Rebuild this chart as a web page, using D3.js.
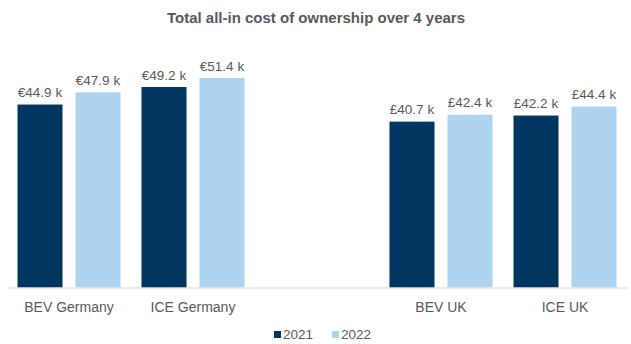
<!DOCTYPE html>
<html>
<head>
<meta charset="utf-8">
<script src="https://cdn.jsdelivr.net/npm/d3@7"></script>
<style>
  html, body { margin: 0; padding: 0; background: #ffffff; }
  svg { display: block; font-family: "Liberation Sans", Arial, sans-serif; }
</style>
</head>
<body>
<svg id="chart" width="631" height="344"></svg>
<script>
// Categories (an empty slot separates the Germany and UK groups)
const categories = ["BEV Germany", "ICE Germany", "", "BEV UK", "ICE UK"];
const years = ["2021", "2022"];
// Total cost of ownership, thousands
const values2021 = [44.9, 49.2, null, 40.7, 42.2];
const values2022 = [47.9, 51.4, null, 42.4, 44.4];
const currency = ["€", "€", "", "£", "£"];

const colors = { "2021": "#003660", "2022": "#ADD3EF" };
const textColor = "#595959";

const svg = d3.select("#chart");
const baseY = 287.5;
const topY = 43;

const x0 = d3.scaleBand().domain(categories).range([7, 627]).padding(0);
const x1 = d3.scaleBand().domain(years)
  .range([10.5, x0.bandwidth() - 10.5]).paddingInner(0.224);
const y = d3.scaleLinear().domain([0, 60]).range([baseY, topY]);

// Title
svg.append("text")
  .attr("x", 316).attr("y", 23)
  .attr("text-anchor", "middle")
  .attr("font-size", 15).attr("font-weight", "bold")
  .attr("fill", textColor)
  .text("Total all-in cost of ownership over 4 years");

const rows = [];
categories.forEach((c, i) => {
  if (values2021[i] == null) return;
  rows.push({ cat: c, year: "2021", v: values2021[i], cur: currency[i] });
  rows.push({ cat: c, year: "2022", v: values2022[i], cur: currency[i] });
});

// Bars
svg.append("g").selectAll("rect").data(rows).join("rect")
  .attr("x", d => x0(d.cat) + x1(d.year))
  .attr("width", x1.bandwidth())
  .attr("y", d => y(d.v))
  .attr("height", d => baseY - y(d.v))
  .attr("fill", d => colors[d.year]);

// Value labels
svg.append("g").selectAll("text").data(rows).join("text")
  .attr("x", d => x0(d.cat) + x1(d.year) + x1.bandwidth() / 2)
  .attr("y", d => y(d.v) - 7.5)
  .attr("text-anchor", "middle")
  .attr("font-size", 13.5)
  .attr("fill", textColor)
  .text(d => d.cur + d.v.toFixed(1) + " k");

// Category axis
const xAxis = d3.axisBottom(x0).tickSize(0).tickPadding(15);
const gx = svg.append("g").attr("transform", `translate(0,${baseY})`).call(xAxis);
gx.select(".domain").attr("stroke", "#D9D9D9").attr("stroke-width", 1.2);
gx.selectAll("text")
  .attr("font-size", 14)
  .attr("font-family", "Liberation Sans, Arial, sans-serif")
  .attr("fill", textColor);

// Legend
const legend = svg.append("g");
const legendItems = [
  { year: "2021", x: 274 },
  { year: "2022", x: 332 }
];
legendItems.forEach(it => {
  legend.append("rect")
    .attr("x", it.x).attr("y", 331)
    .attr("width", 7).attr("height", 7)
    .attr("fill", colors[it.year]);
  legend.append("text")
    .attr("x", it.x + 9).attr("y", 339)
    .attr("font-size", 13.5)
    .attr("fill", textColor)
    .text(it.year);
});
</script>
</body>
</html>
